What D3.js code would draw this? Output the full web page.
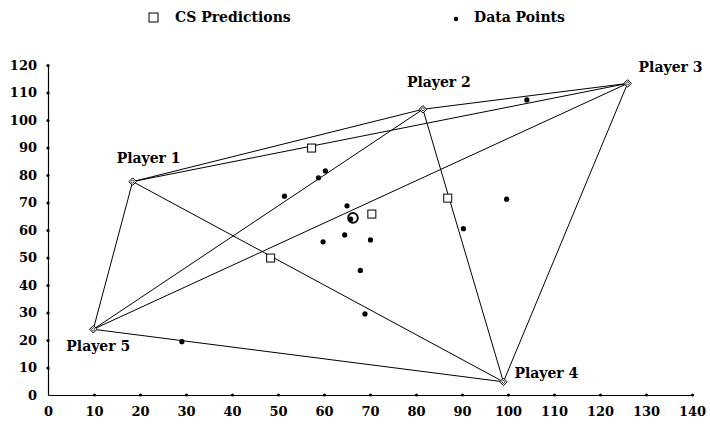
<!DOCTYPE html>
<html>
<head>
<meta charset="utf-8">
<script src="https://cdn.jsdelivr.net/npm/d3@7"></script>
<style>
  html, body { margin: 0; padding: 0; background: #fff; }
  svg text { font-family: "DejaVu Serif", serif; font-weight: bold; fill: #000; }
</style>
</head>
<body>
<svg id="chart" width="710" height="427"></svg>
<script>
// ---- data ----
const playerNames = ["Player 1", "Player 2", "Player 3", "Player 4", "Player 5"];
const playerX = [18.4, 81.5, 126.0, 99.0, 9.85];
const playerY = [77.6, 103.9, 113.3, 4.8, 23.9];

const csPredX = [57.3, 70.4, 86.9, 48.4];
const csPredY = [89.8, 65.8, 71.6, 49.8];

const dataX = [60.3, 58.8, 51.4, 65.0, 65.8, 64.5, 59.8, 70.1, 67.9, 68.9, 104.1, 99.7, 90.3, 29.1];
const dataY = [81.5, 79.0, 72.3, 68.8, 64.0, 58.2, 55.7, 56.4, 45.3, 29.5, 107.3, 71.2, 60.5, 19.4];

const centerPoint = [66.3, 64.4];

const xTicks = [0, 10, 20, 30, 40, 50, 60, 70, 80, 90, 100, 110, 120, 130, 140];
const yTicks = [0, 10, 20, 30, 40, 50, 60, 70, 80, 90, 100, 110, 120];

const legendLabels = ["CS Predictions", "Data Points"];

// ---- drawing ----
const svg = d3.select("#chart");
const x = d3.scaleLinear().domain([0, 140]).range([48, 692]);
const y = d3.scaleLinear().domain([0, 120]).range([395, 65]);

// axes
const gx = svg.append("g").attr("transform", `translate(0,${y(0)})`)
  .call(d3.axisBottom(x).tickValues(xTicks).tickSize(0).tickPadding(12).tickFormat(d3.format("d")));
const gy = svg.append("g").attr("transform", `translate(${x(0)},0)`)
  .call(d3.axisLeft(y).tickValues(yTicks).tickSize(0).tickPadding(11).tickFormat(d3.format("d")));
[gx, gy].forEach(g => {
  g.select(".domain").attr("stroke", "#000").attr("stroke-width", 1.2);
  g.selectAll("text").style("font-size", "13px").style("font-family", "'DejaVu Serif', serif")
    .style("font-weight", "bold").attr("fill", "#000");
});
gx.selectAll(".tick text").attr("dy", "0.71em");
// tick dots
gx.selectAll(".tick").filter(d => d !== 0).append("circle").attr("r", 1.6).attr("fill", "#000");
gy.selectAll(".tick").filter(d => d !== 0).append("circle").attr("r", 1.6).attr("fill", "#000");

// complete graph between players
const players = playerNames.map((n, i) => ({ name: n, x: playerX[i], y: playerY[i] }));
const edges = [];
for (let i = 0; i < players.length; i++)
  for (let j = i + 1; j < players.length; j++) edges.push([players[i], players[j]]);
svg.append("g").selectAll("line").data(edges).join("line")
  .attr("x1", d => x(d[0].x)).attr("y1", d => y(d[0].y))
  .attr("x2", d => x(d[1].x)).attr("y2", d => y(d[1].y))
  .attr("stroke", "#000").attr("stroke-width", 1);

// player diamonds
const diamond = d3.symbol().type(d3.symbolDiamond2).size(36);
const pg = svg.append("g").selectAll("g").data(players).join("g")
  .attr("transform", d => `translate(${x(d.x)},${y(d.y)})`);
pg.append("path").attr("d", diamond).attr("fill", "#fff").attr("stroke", "#000").attr("stroke-width", 1);
pg.append("path").attr("d", d3.symbol().type(d3.symbolDiamond2).size(8)).attr("fill", "none").attr("stroke", "#000").attr("stroke-width", 0.8);

// player labels
const labelOffsets = [[-16, -19], [-16, -22], [11, -11], [11, -4], [-27, 22]];
svg.append("g").selectAll("text").data(players).join("text")
  .attr("x", (d, i) => x(d.x) + labelOffsets[i][0])
  .attr("y", (d, i) => y(d.y) + labelOffsets[i][1])
  .style("font-size", "14px")
  .text(d => d.name);

// data points
svg.append("g").selectAll("circle").data(dataX.map((v, i) => [v, dataY[i]])).join("circle")
  .attr("cx", d => x(d[0])).attr("cy", d => y(d[1])).attr("r", 2.6).attr("fill", "#000");

// centre ring
svg.append("circle").attr("cx", x(centerPoint[0])).attr("cy", y(centerPoint[1]))
  .attr("r", 4.8).attr("fill", "none").attr("stroke", "#000").attr("stroke-width", 2);

// CS predictions
svg.append("g").selectAll("rect").data(csPredX.map((v, i) => [v, csPredY[i]])).join("rect")
  .attr("x", d => x(d[0]) - 4).attr("y", d => y(d[1]) - 4)
  .attr("width", 8).attr("height", 8)
  .attr("fill", "#fff").attr("stroke", "#000").attr("stroke-width", 1);

// legend
const leg = svg.append("g");
leg.append("rect").attr("x", 149).attr("y", 13).attr("width", 9).attr("height", 9)
  .attr("fill", "#fff").attr("stroke", "#000").attr("stroke-width", 1);
leg.append("text").attr("x", 175).attr("y", 22).style("font-size", "14px").text(legendLabels[0]);
leg.append("circle").attr("cx", 456).attr("cy", 19).attr("r", 2.2).attr("fill", "#000");
leg.append("text").attr("x", 474).attr("y", 22).style("font-size", "14px").text(legendLabels[1]);
</script>
</body>
</html>
